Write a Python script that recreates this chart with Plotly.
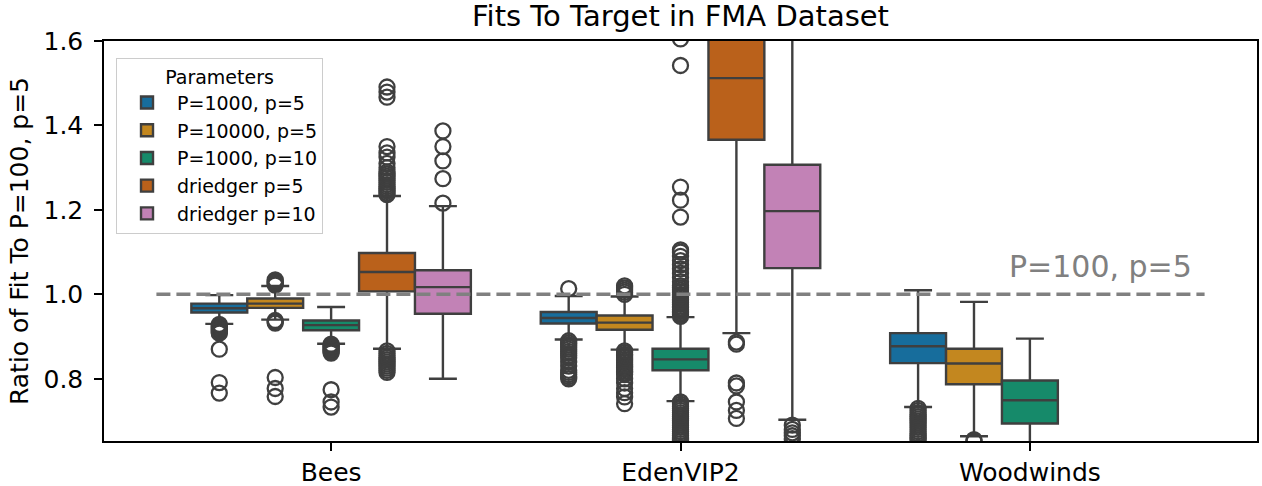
import plotly.graph_objects as go

# ---------------- data ----------------
categories = ["Bees", "EdenVIP2", "Woodwinds"]
series_names = ["P=1000, p=5", "P=10000, p=5", "P=1000, p=10", "driedger p=5", "driedger p=10"]
series_colors = ["#176d9c", "#c3871f", "#168a6a", "#ba611b", "#c282b6"]

# per-series box statistics (one entry per category present)
cats_p1000_p5 = ["Bees", "EdenVIP2", "Woodwinds"]
q1_p1000_p5 = [0.957, 0.931, 0.837]
med_p1000_p5 = [0.967, 0.944, 0.877]
q3_p1000_p5 = [0.978, 0.958, 0.908]
lo_p1000_p5 = [0.930, 0.893, 0.733]
hi_p1000_p5 = [0.998, 0.996, 1.0095]

cats_p10000_p5 = ["Bees", "EdenVIP2", "Woodwinds"]
q1_p10000_p5 = [0.968, 0.916, 0.787]
med_p10000_p5 = [0.978, 0.933, 0.836]
q3_p10000_p5 = [0.990, 0.950, 0.871]
lo_p10000_p5 = [0.940, 0.869, 0.664]
hi_p10000_p5 = [1.0197, 0.995, 0.982]

cats_p1000_p10 = ["Bees", "EdenVIP2", "Woodwinds"]
q1_p1000_p10 = [0.915, 0.820, 0.694]
med_p1000_p10 = [0.927, 0.846, 0.749]
q3_p1000_p10 = [0.938, 0.871, 0.796]
lo_p1000_p10 = [0.883, 0.747, 0.600]
hi_p1000_p10 = [0.970, 0.946, 0.895]

cats_dr_p5 = ["Bees", "EdenVIP2"]
q1_dr_p5 = [1.007, 1.366]
med_dr_p5 = [1.053, 1.512]
q3_dr_p5 = [1.098, 1.680]
lo_dr_p5 = [0.871, 0.908]
hi_dr_p5 = [1.233, 2.100]

cats_dr_p10 = ["Bees", "EdenVIP2"]
q1_dr_p10 = [0.954, 1.062]
med_dr_p10 = [1.017, 1.197]
q3_dr_p10 = [1.057, 1.307]
lo_dr_p10 = [0.800, 0.703]
hi_dr_p10 = [1.209, 1.670]

# outliers per series, per category (same order as the series' categories)
out_p1000_p5 = [
    [0.929, 0.926, 0.923, 0.920, 0.918, 0.915, 0.913, 0.910, 0.908, 0.870, 0.791, 0.766],
    [1.0135, 0.890, 0.885, 0.880, 0.875, 0.870, 0.865, 0.860, 0.855, 0.850, 0.840,
     0.830, 0.820, 0.815, 0.810, 0.805, 0.800],
    [0.730, 0.725, 0.720, 0.715, 0.710, 0.705, 0.700, 0.695, 0.690, 0.685, 0.680,
     0.675, 0.670, 0.665, 0.660, 0.655],
]
out_p10000_p5 = [
    [1.022, 1.025, 1.028, 1.031, 1.034, 0.938, 0.935, 0.932, 0.803, 0.777, 0.758],
    [1.000, 1.005, 1.010, 1.015, 1.020, 0.866, 0.862, 0.858, 0.854, 0.850, 0.846,
     0.842, 0.838, 0.834, 0.830, 0.826, 0.822, 0.818, 0.814, 0.810, 0.800, 0.790,
     0.777, 0.767, 0.757, 0.741],
    [0.656, 0.652],
]
out_p1000_p10 = [
    [0.882, 0.879, 0.876, 0.873, 0.870, 0.867, 0.864, 0.861, 0.774, 0.745, 0.733],
    [0.948, 0.952, 0.956, 0.960, 0.964, 0.968, 0.972, 0.976, 0.980, 0.984, 0.988,
     0.992, 0.996, 1.000, 1.005, 1.010, 1.015, 1.020, 1.030, 1.040, 1.050, 1.060,
     1.070, 1.080, 1.090, 1.100, 1.105, 1.183, 1.223, 1.254, 1.542, 1.605,
     0.745, 0.740, 0.735, 0.730, 0.725, 0.720, 0.715, 0.710, 0.705, 0.700, 0.695,
     0.690, 0.685, 0.680, 0.675, 0.670, 0.665, 0.660, 0.655],
    [],
]
out_dr_p5 = [
    [1.236, 1.240, 1.245, 1.250, 1.255, 1.260, 1.265, 1.270, 1.275, 1.280, 1.285,
     1.290, 1.300, 1.310, 1.325, 1.335, 1.350, 1.467, 1.479, 1.491,
     0.866, 0.860, 0.855, 0.850, 0.845, 0.840, 0.835, 0.830, 0.825, 0.820, 0.815],
    [0.887, 0.882, 0.790, 0.783, 0.745, 0.725, 0.706],
]
out_dr_p10 = [
    [1.216, 1.274, 1.316, 1.350, 1.387],
    [0.690, 0.680, 0.672, 0.665, 0.658],
]

ref_value = 1.0
ref_span = [-0.5, 2.5]
ref_label = "P=100, p=5"

# ---------------- figure ----------------
series = [
    (cats_p1000_p5, q1_p1000_p5, med_p1000_p5, q3_p1000_p5, lo_p1000_p5, hi_p1000_p5, out_p1000_p5),
    (cats_p10000_p5, q1_p10000_p5, med_p10000_p5, q3_p10000_p5, lo_p10000_p5, hi_p10000_p5, out_p10000_p5),
    (cats_p1000_p10, q1_p1000_p10, med_p1000_p10, q3_p1000_p10, lo_p1000_p10, hi_p1000_p10, out_p1000_p10),
    (cats_dr_p5, q1_dr_p5, med_dr_p5, q3_dr_p5, lo_dr_p5, hi_dr_p5, out_dr_p5),
    (cats_dr_p10, q1_dr_p10, med_dr_p10, q3_dr_p10, lo_dr_p10, hi_dr_p10, out_dr_p10),
]

n_hue = len(series_names)
dodge_total = 0.8
box_w = dodge_total / n_hue
line_col = "#3f3f3f"
FONT = "DejaVu Sans"

fig = go.Figure()
for h, (cats, q1, med, q3, lo, hi, outs) in enumerate(series):
    offset = -dodge_total / 2 + box_w * (h + 0.5)
    xs = [categories.index(c) + offset for c in cats]
    fig.add_trace(go.Box(
        x=xs, q1=q1, median=med, q3=q3, lowerfence=lo, upperfence=hi,
        width=box_w, whiskerwidth=0.5, boxpoints=False,
        fillcolor=series_colors[h], line=dict(color=line_col, width=2.4),
        name=series_names[h], showlegend=True,
    ))
    ox, oy = [], []
    for x0, vals in zip(xs, outs):
        ox += [x0] * len(vals)
        oy += vals
    fig.add_trace(go.Scatter(
        x=ox, y=oy, mode="markers", showlegend=False, hoverinfo="y",
        marker=dict(symbol="circle-open", size=15, color=line_col,
                    line=dict(width=2.3, color=line_col)),
    ))

fig.add_trace(go.Scatter(
    x=ref_span, y=[ref_value, ref_value], mode="lines", showlegend=False,
    line=dict(color="#808080", width=3.6, dash="14px,6px"), hoverinfo="skip",
))

fig.add_annotation(
    x=2.47, y=1.02, xref="x", yref="y", text=ref_label, showarrow=False,
    xanchor="right", yanchor="bottom", font=dict(family=FONT, size=30, color="#808080"),
)

fig.update_layout(
    template="none",
    width=1262, height=486,
    margin=dict(l=104, r=5, t=41, b=45, autoexpand=False),
    paper_bgcolor="white", plot_bgcolor="white",
    font=dict(family=FONT, size=25, color="black"),
    title=dict(text="Fits To Target in FMA Dataset", x=(104 + 1257) / 2 / 1262,
               xanchor="center", y=1 - 16 / 486, yanchor="middle",
               font=dict(family=FONT, size=29, color="black")),
    boxmode="overlay",
    showlegend=True,
    legend=dict(
        x=(116 - 104) / 1152, y=1 - (58 - 41) / 400, xanchor="left", yanchor="top",
        bgcolor="rgba(255,255,255,0.8)", bordercolor="#cccccc", borderwidth=1,
        font=dict(family=FONT, size=19, color="black"),
        title=dict(text="Parameters", side="top center", font=dict(family=FONT, size=19)),
        tracegroupgap=0, itemwidth=50,
    ),
    xaxis=dict(
        range=[-0.65, 2.65], tickmode="array", tickvals=list(range(len(categories))),
        ticktext=categories, showgrid=False, zeroline=False,
        showline=True, linecolor="black", linewidth=1.5, mirror=True,
        ticks="outside", ticklen=8, tickwidth=1.5, tickcolor="black",
        tickfont=dict(family=FONT, size=25), automargin=False,
    ),
    yaxis=dict(
        range=[0.6526, 1.6], tickmode="array", tickvals=[0.8, 1.0, 1.2, 1.4, 1.6],
        ticktext=["0.8", "1.0", "1.2", "1.4", "1.6"], showgrid=False, zeroline=False,
        showline=True, linecolor="black", linewidth=1.5, mirror=True,
        ticks="outside", ticklen=8, tickwidth=1.5, tickcolor="black",
        tickfont=dict(family=FONT, size=25), ticklabelstandoff=6,
        title=dict(text="Ratio of Fit To P=100, p=5", font=dict(family=FONT, size=25), standoff=8),
        automargin=False,
    ),
)

fig.write_html(
    "out.html",
    config={"displayModeBar": False},
    post_script="document.body.style.margin='0';document.body.style.overflow='hidden';",
)
